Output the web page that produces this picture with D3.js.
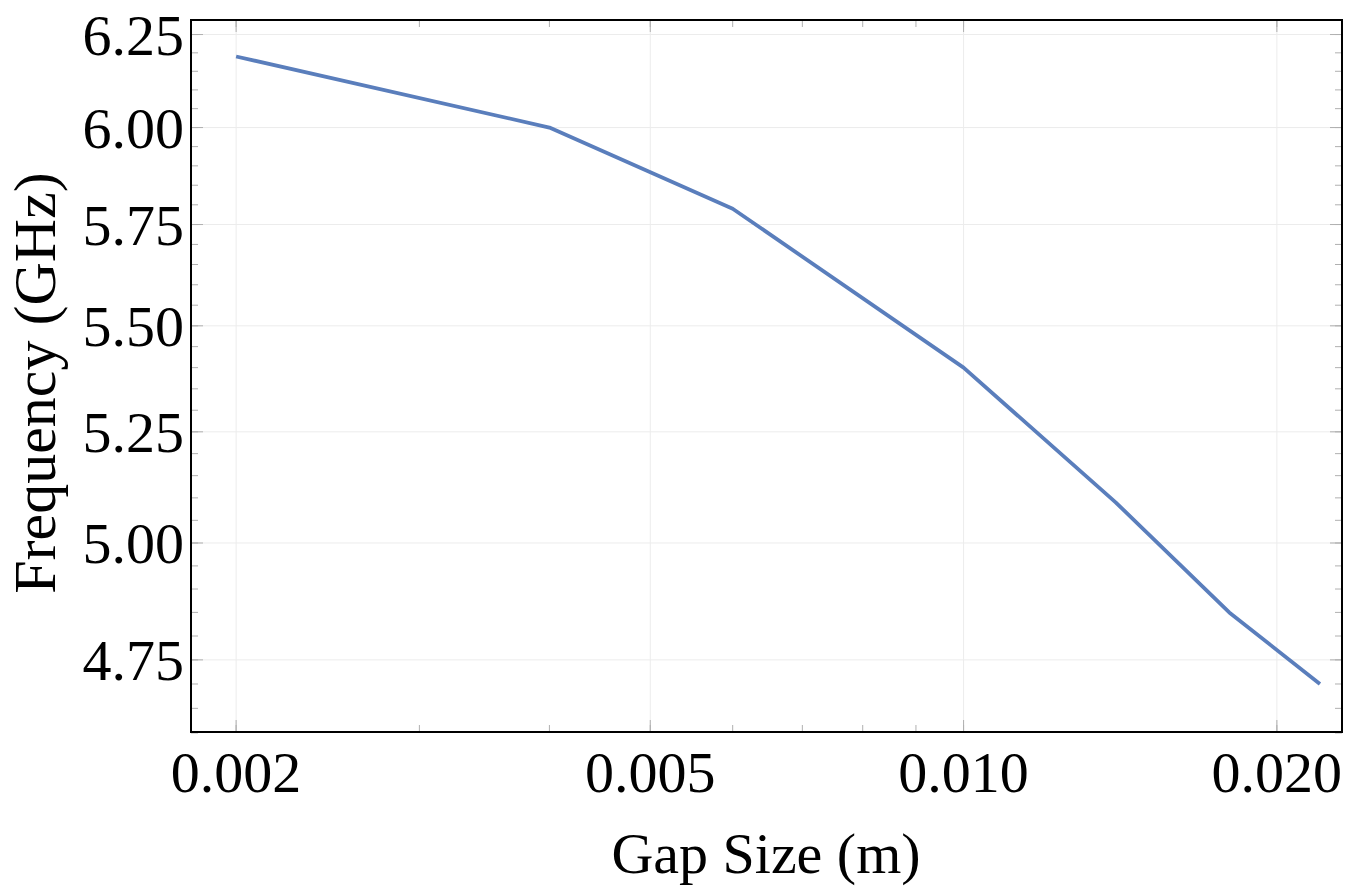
<!DOCTYPE html>
<html>
<head>
<meta charset="utf-8">
<script src="https://cdn.jsdelivr.net/npm/d3@7"></script>
<style>
  body { margin: 0; background: #fff; }
  text { font-family: "Liberation Serif", "Times New Roman", serif; fill: #000; }
</style>
</head>
<body>
<svg id="chart" width="1353" height="892"></svg>
<script>
// data
const gap = [0.002, 0.004, 0.006, 0.010, 0.014, 0.018, 0.022];
const freq = [6.19, 6.00, 5.79, 5.40, 5.09, 4.85, 4.70];
const xTicks = [0.002, 0.005, 0.010, 0.020];
const yTicks = [4.75, 5.00, 5.25, 5.50, 5.75, 6.00, 6.25];
const xMinor = [0.002, 0.003, 0.004, 0.005, 0.006, 0.007, 0.008, 0.009, 0.010, 0.020];
const yMinor = d3.range(4.60, 6.28, 0.05);

const box = {left: 191, right: 1342, top: 20, bottom: 732};
const svg = d3.select("#chart");

const x = d3.scaleLog().domain([0.00181, 0.0231]).range([box.left, box.right]);
const y = d3.scaleLog().domain([4.602, 6.29]).range([box.bottom, box.top]);

// gridlines
svg.append("g").selectAll("line").data(xTicks).enter().append("line")
  .attr("x1", d => x(d)).attr("x2", d => x(d))
  .attr("y1", box.top).attr("y2", box.bottom)
  .attr("stroke", "#ececec").attr("stroke-width", 1);
svg.append("g").selectAll("line").data(yTicks).enter().append("line")
  .attr("x1", box.left).attr("x2", box.right)
  .attr("y1", d => y(d)).attr("y2", d => y(d))
  .attr("stroke", "#ececec").attr("stroke-width", 1);

// ticks on all four sides, inward
const tickCol = "#b0b0b0";
function ticksX(vals, len, yy, dir) {
  svg.append("g").selectAll("line").data(vals).enter().append("line")
    .attr("x1", d => x(d)).attr("x2", d => x(d))
    .attr("y1", yy).attr("y2", yy + dir * len)
    .attr("stroke", tickCol).attr("stroke-width", 1);
}
function ticksY(vals, len, xx, dir) {
  svg.append("g").selectAll("line").data(vals).enter().append("line")
    .attr("y1", d => y(d)).attr("y2", d => y(d))
    .attr("x1", xx).attr("x2", xx + dir * len)
    .attr("stroke", tickCol).attr("stroke-width", 1);
}
ticksX(xMinor, 7, box.bottom, -1);
ticksX(xMinor, 7, box.top, 1);
ticksX(xTicks, 12, box.bottom, -1);
ticksX(xTicks, 12, box.top, 1);
ticksY(yMinor, 7, box.left, 1);
ticksY(yMinor, 7, box.right, -1);
ticksY(yTicks, 12, box.left, 1);
ticksY(yTicks, 12, box.right, -1);

// line
const line = d3.line().x((d, i) => x(gap[i])).y(d => y(d));
svg.append("path").datum(freq)
  .attr("d", line)
  .attr("fill", "none")
  .attr("stroke", "#5a7ebc")
  .attr("stroke-width", 3.8)
  .attr("stroke-linejoin", "round");

// frame
svg.append("rect")
  .attr("x", box.left).attr("y", box.top)
  .attr("width", box.right - box.left).attr("height", box.bottom - box.top)
  .attr("fill", "none").attr("stroke", "#000").attr("stroke-width", 2);

// tick labels
svg.append("g").selectAll("text").data(xTicks).enter().append("text")
  .attr("x", d => x(d)).attr("y", 792)
  .attr("text-anchor", "middle")
  .style("font-size", "58px")
  .text(d => d3.format(".3f")(d));
svg.append("g").selectAll("text").data(yTicks).enter().append("text")
  .attr("x", 184).attr("y", d => y(d) + 20)
  .attr("text-anchor", "end")
  .style("font-size", "58px")
  .text(d => d3.format(".2f")(d));

// axis titles
svg.append("text")
  .attr("x", 766).attr("y", 873)
  .attr("text-anchor", "middle")
  .style("font-size", "58px")
  .text("Gap Size (m)");
svg.append("text")
  .attr("transform", "translate(55,383) rotate(-90)")
  .attr("text-anchor", "middle")
  .style("font-size", "60px")
  .text("Frequency (GHz)");
</script>
</body>
</html>
